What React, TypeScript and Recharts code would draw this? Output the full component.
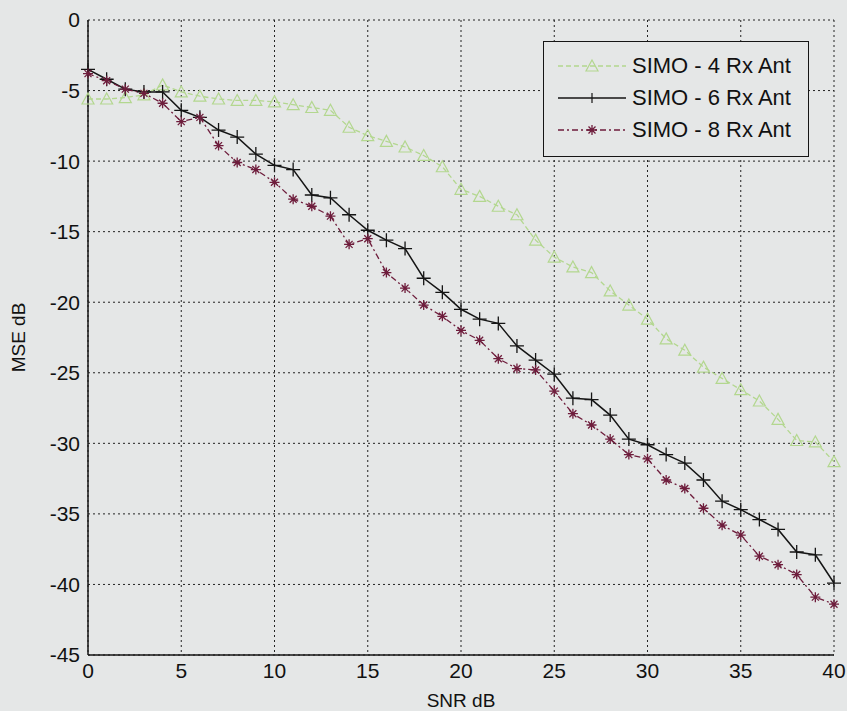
import { CartesianGrid, Legend, Line, LineChart, XAxis, YAxis } from "recharts";

const SNR = [0, 1, 2, 3, 4, 5, 6, 7, 8, 9, 10, 11, 12, 13, 14, 15, 16, 17, 18, 19, 20, 21, 22, 23, 24, 25, 26, 27, 28, 29, 30, 31, 32, 33, 34, 35, 36, 37, 38, 39, 40];
const MSE_4RX = [-5.6, -5.6, -5.5, -5.3, -4.6, -5.1, -5.4, -5.6, -5.7, -5.7, -5.8, -6.0, -6.2, -6.4, -7.6, -8.2, -8.6, -9.0, -9.6, -10.4, -12.0, -12.5, -13.2, -13.8, -15.6, -16.8, -17.5, -17.9, -19.2, -20.2, -21.2, -22.6, -23.4, -24.6, -25.4, -26.2, -27.0, -28.3, -29.8, -29.9, -31.3];
const MSE_6RX = [-3.5, -4.2, -4.9, -5.1, -5.1, -6.4, -6.9, -7.8, -8.3, -9.5, -10.3, -10.6, -12.4, -12.6, -13.8, -14.9, -15.6, -16.2, -18.3, -19.3, -20.5, -21.2, -21.5, -23.1, -24.1, -25.1, -26.8, -26.9, -28.0, -29.7, -30.1, -30.8, -31.4, -32.6, -34.1, -34.7, -35.4, -36.1, -37.7, -37.9, -39.9];
const MSE_8RX = [-3.8, -4.3, -4.9, -5.2, -5.9, -7.2, -6.9, -8.9, -10.1, -10.6, -11.5, -12.7, -13.2, -13.9, -15.9, -15.5, -17.9, -19.0, -20.2, -21.0, -22.0, -22.7, -24.0, -24.7, -24.8, -26.3, -27.9, -28.7, -29.7, -30.8, -31.1, -32.6, -33.2, -34.6, -35.8, -36.5, -38.0, -38.6, -39.3, -40.9, -41.4];
const X_TICKS = [0, 5, 10, 15, 20, 25, 30, 35, 40];
const Y_TICKS = [-45, -40, -35, -30, -25, -20, -15, -10, -5, 0];
const NAMES = ["SIMO - 4 Rx Ant", "SIMO - 6 Rx Ant", "SIMO - 8 Rx Ant"];

const data = SNR.map((s, i) => ({ snr: s, a: MSE_4RX[i], b: MSE_6RX[i], c: MSE_8RX[i] }));

const BG = "#e5e7e7";
const GREEN = "#b3d78f";
const BLACK = "#151515";
const MAROON = "#6e1d3c";
const FONT = "'Liberation Sans', Arial, sans-serif";

function PlusDot(p: any) {
  const { cx, cy, index } = p;
  if (cx == null || cy == null) return <g key={index} />;
  return <path key={index} d={`M${cx - 7},${cy}h14M${cx},${cy - 7}v14`} stroke={BLACK} strokeWidth={1.3} fill="none" />;
}

function StarDot(p: any) {
  const { cx, cy, index } = p;
  if (cx == null || cy == null) return <g key={index} />;
  const r = 5;
  const d = r * 0.7;
  return (
    <path
      key={index}
      d={`M${cx - r},${cy}h${2 * r}M${cx},${cy - r}v${2 * r}M${cx - d},${cy - d}l${2 * d},${2 * d}M${cx - d},${cy + d}l${2 * d},${-2 * d}`}
      stroke={MAROON}
      strokeWidth={1.3}
      fill="none"
    />
  );
}

function TriDot(p: any) {
  const { cx, cy, index } = p;
  if (cx == null || cy == null) return <g key={index} />;
  return <path key={index} d={`M${cx},${cy - 6}L${cx + 6},${cy + 5}L${cx - 6},${cy + 5}Z`} stroke={GREEN} strokeWidth={1.2} fill="none" />;
}

function LegendBox() {
  const rows = [
    { color: GREEN, dash: "5 3", marker: "tri" },
    { color: BLACK, dash: undefined, marker: "plus" },
    { color: MAROON, dash: "6 3 2 3", marker: "star" },
  ];
  return (
    <div style={{ width: 266, height: 116, border: `1.5px solid ${BLACK}`, background: BG, boxSizing: "border-box", paddingTop: 8 }}>
      {rows.map((r, i) => (
        <div key={i} style={{ display: "flex", alignItems: "center", height: 32 }}>
          <svg width={88} height={20} style={{ marginLeft: 12 }}>
            <line x1={2} y1={10} x2={70} y2={10} stroke={r.color} strokeWidth={1.4} strokeDasharray={r.dash} />
            {r.marker === "tri" && <TriDot cx={36} cy={10} index={0} />}
            {r.marker === "plus" && <path d="M36,5v10" stroke={BLACK} strokeWidth={1.2} />}
            {r.marker === "star" && <StarDot cx={36} cy={10} index={0} />}
          </svg>
          <span style={{ fontFamily: FONT, fontSize: 22, color: "#111", marginLeft: -12 }}>{NAMES[i]}</span>
        </div>
      ))}
    </div>
  );
}

export default function App() {
  const tick = { fontSize: 21, fill: "#111", fontFamily: FONT };
  return (
    <div style={{ position: "absolute", left: 0, top: 0, width: 847, height: 711, background: BG }}>
      <LineChart width={847} height={711} data={data} margin={{ top: 20, right: 13, bottom: 26, left: 28 }}>
        <CartesianGrid stroke="#222" strokeDasharray="2 3" strokeWidth={1} />
        <XAxis
          dataKey="snr"
          type="number"
          domain={[0, 40]}
          ticks={X_TICKS}
          tick={tick}
          tickLine={false}
          axisLine={{ stroke: BLACK, strokeWidth: 1.5 }}
          height={30}
          label={{ value: "SNR dB", position: "insideBottom", offset: -22, style: { fontSize: 19, fill: "#111", fontFamily: FONT } }}
        />
        <XAxis xAxisId="top" dataKey="snr" type="number" domain={[0, 40]} orientation="top" tick={false} tickLine={false} height={0} axisLine={{ stroke: BLACK, strokeWidth: 1.5 }} />
        <YAxis
          type="number"
          domain={[-45, 0]}
          ticks={Y_TICKS}
          tick={tick}
          tickLine={false}
          axisLine={{ stroke: BLACK, strokeWidth: 1.5 }}
          width={60}
          label={{ value: "MSE dB", angle: -90, position: "insideLeft", offset: -10, style: { fontSize: 19, fill: "#111", fontFamily: FONT, textAnchor: "middle" } }}
        />
        <YAxis yAxisId="right" type="number" domain={[-45, 0]} orientation="right" tick={false} tickLine={false} width={0} axisLine={{ stroke: BLACK, strokeWidth: 1.5 }} />
        <Legend
          layout="vertical"
          align="center"
          verticalAlign="middle"
          content={() => <LegendBox />}
          wrapperStyle={{ position: "absolute", left: 543, top: 41, width: 266, height: 116 }}
        />
        <Line dataKey="a" name={NAMES[0]} stroke={GREEN} strokeWidth={1.3} strokeDasharray="5 3" dot={TriDot} isAnimationActive={false} />
        <Line dataKey="b" name={NAMES[1]} stroke={BLACK} strokeWidth={1.5} dot={PlusDot} isAnimationActive={false} />
        <Line dataKey="c" name={NAMES[2]} stroke={MAROON} strokeWidth={1.3} strokeDasharray="6 3 2 3" dot={StarDot} isAnimationActive={false} />
      </LineChart>
    </div>
  );
}
